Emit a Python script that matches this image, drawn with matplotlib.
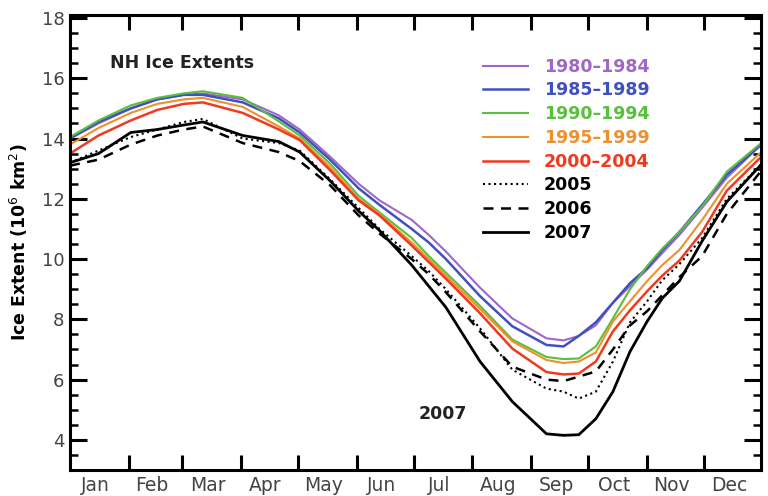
import matplotlib
matplotlib.use("Agg")
import matplotlib.pyplot as plt
from matplotlib.ticker import MultipleLocator, FixedLocator, NullFormatter

plt.rcParams['font.family'] = ['DejaVu Sans']

days = [0, 15, 32, 46, 60, 70, 91, 110, 121, 137, 152, 163, 180, 189, 198,
        216, 233, 251, 260, 268, 277, 286, 295, 304, 312, 321, 333, 346, 365]

ext_1980_1984 = [14.0, 14.5, 15.0, 15.3, 15.45, 15.5, 15.3, 14.77, 14.3, 13.4, 12.5, 11.95, 11.3, 10.8, 10.25,
                 9.05, 8.03, 7.37, 7.3, 7.45, 7.8, 8.55, 9.1, 9.65, 10.2, 10.8, 11.7, 12.7, 13.85]
ext_1985_1989 = [14.0, 14.55, 15.0, 15.3, 15.45, 15.45, 15.2, 14.67, 14.2, 13.3, 12.35, 11.8, 11.0, 10.55, 10.0,
                 8.77, 7.77, 7.15, 7.1, 7.45, 7.9, 8.55, 9.2, 9.7, 10.3, 10.9, 11.8, 12.8, 13.85]
ext_1990_1994 = [14.05, 14.6, 15.1, 15.35, 15.5, 15.57, 15.35, 14.57, 14.1, 13.17, 12.1, 11.55, 10.7, 10.1, 9.55,
                 8.45, 7.33, 6.75, 6.68, 6.7, 7.1, 8.03, 9.0, 9.77, 10.35, 10.9, 11.75, 12.9, 13.9]
ext_1995_1999 = [13.8, 14.35, 14.85, 15.15, 15.3, 15.35, 15.05, 14.4, 14.0, 13.05, 12.0, 11.5, 10.55, 10.0, 9.45,
                 8.35, 7.27, 6.65, 6.55, 6.6, 6.9, 7.93, 8.6, 9.27, 9.8, 10.3, 11.3, 12.5, 13.6]
ext_2000_2004 = [13.5, 14.1, 14.6, 14.95, 15.15, 15.2, 14.85, 14.3, 13.95, 12.95, 11.95, 11.45, 10.45, 9.9, 9.35,
                 8.2, 7.03, 6.25, 6.17, 6.2, 6.6, 7.6, 8.3, 8.93, 9.45, 9.95, 10.9, 12.27, 13.45]
ext_2005 = [13.2, 13.6, 14.05, 14.3, 14.55, 14.65, 14.0, 13.85, 13.6, 12.65, 11.7, 11.0, 10.1, 9.6, 9.0,
            7.7, 6.33, 5.7, 5.6, 5.37, 5.6, 6.6, 7.9, 8.6, 9.3, 9.83, 10.7, 12.0, 13.2]
ext_2006 = [13.1, 13.3, 13.8, 14.1, 14.3, 14.4, 13.85, 13.55, 13.25, 12.45, 11.45, 10.85, 10.0, 9.5, 8.9,
            7.6, 6.43, 6.0, 5.95, 6.1, 6.27, 7.0, 7.8, 8.27, 8.8, 9.4, 10.1, 11.5, 13.0]
ext_2007 = [13.2, 13.5, 14.2, 14.3, 14.45, 14.55, 14.1, 13.9, 13.55, 12.6, 11.6, 10.95, 9.8, 9.1, 8.4,
            6.6, 5.27, 4.2, 4.15, 4.17, 4.7, 5.6, 6.93, 7.93, 8.7, 9.27, 10.6, 11.9, 13.2]

series_labels = ["1980\u20131984", "1985\u20131989", "1990\u20131994", "1995\u20131999",
                 "2000\u20132004", "2005", "2006", "2007"]
month_starts = [0, 31, 59, 90, 120, 151, 181, 212, 243, 273, 304, 334, 365]
month_labels = ["Jan", "Feb", "Mar", "Apr", "May", "Jun", "Jul", "Aug", "Sep", "Oct", "Nov", "Dec"]

colors = ['#a066c8', '#4050c0', '#58c03c', '#f0902c', '#f03a20', 'black', 'black', 'black']
styles = ['-', '-', '-', '-', '-', ':', (0, (4, 3)), '-']
widths = [1.5, 1.8, 1.5, 1.5, 1.8, 1.5, 1.8, 2.0]
data = [ext_1980_1984, ext_1985_1989, ext_1990_1994, ext_1995_1999, ext_2000_2004,
        ext_2005, ext_2006, ext_2007]

fig = plt.figure(figsize=(7.68, 4.96), dpi=100)
ax = fig.add_axes([70/768, 1-470/496, 691/768, 455/496])

for y, c, ls, lw, lab in zip(data, colors, styles, widths, series_labels):
    ax.plot(days, y, color=c, linestyle=ls, linewidth=lw, label=lab)

ax.set_xlim(0, 364)
ax.set_ylim(3, 18.1)

ax.yaxis.set_major_locator(MultipleLocator(2))
ax.yaxis.set_minor_locator(MultipleLocator(0.5))
ax.set_yticks([4, 6, 8, 10, 12, 14, 16, 18])

ax.xaxis.set_major_locator(FixedLocator(month_starts[1:-1]))
ax.xaxis.set_major_formatter(NullFormatter())
mids = [(month_starts[i] + month_starts[i+1]) / 2 - 2 for i in range(12)]
ax.xaxis.set_minor_locator(FixedLocator(mids))
ax.set_xticklabels(month_labels, minor=True)

ax.tick_params(axis='y', which='major', direction='in', length=12, width=2.2,
               left=True, right=True, labelsize=13, labelcolor='#444444', pad=4)
ax.tick_params(axis='y', which='minor', direction='in', length=6, width=1.8, left=True, right=True)
ax.tick_params(axis='x', which='major', direction='in', length=11, width=2.2, top=True, bottom=True)
ax.tick_params(axis='x', which='minor', length=0, labelsize=13.5, labelcolor='#444444', pad=4)

for s in ax.spines.values():
    s.set_linewidth(2.2)

ax.set_ylabel("Ice Extent (10$^{6}$ km$^{2}$)", fontsize=12.5, fontweight='bold', labelpad=8)

ax.text(0.058, 0.894, "NH Ice Extents", transform=ax.transAxes, fontsize=12.5,
        fontweight='bold', color='#222222', ha='left', va='center')
ax.text(0.505, 0.124, "2007", transform=ax.transAxes, fontsize=12.5,
        fontweight='bold', color='#222222', ha='left', va='center')

leg = ax.legend(loc='upper left', bbox_to_anchor=(0.598, 0.906), frameon=False,
                prop={'weight': 'bold', 'size': 12.5}, handlelength=2.6, handletextpad=0.9,
                labelspacing=0.33, borderpad=0, borderaxespad=0,
                labelcolor=colors)

fig.savefig("out.png", dpi=100)
